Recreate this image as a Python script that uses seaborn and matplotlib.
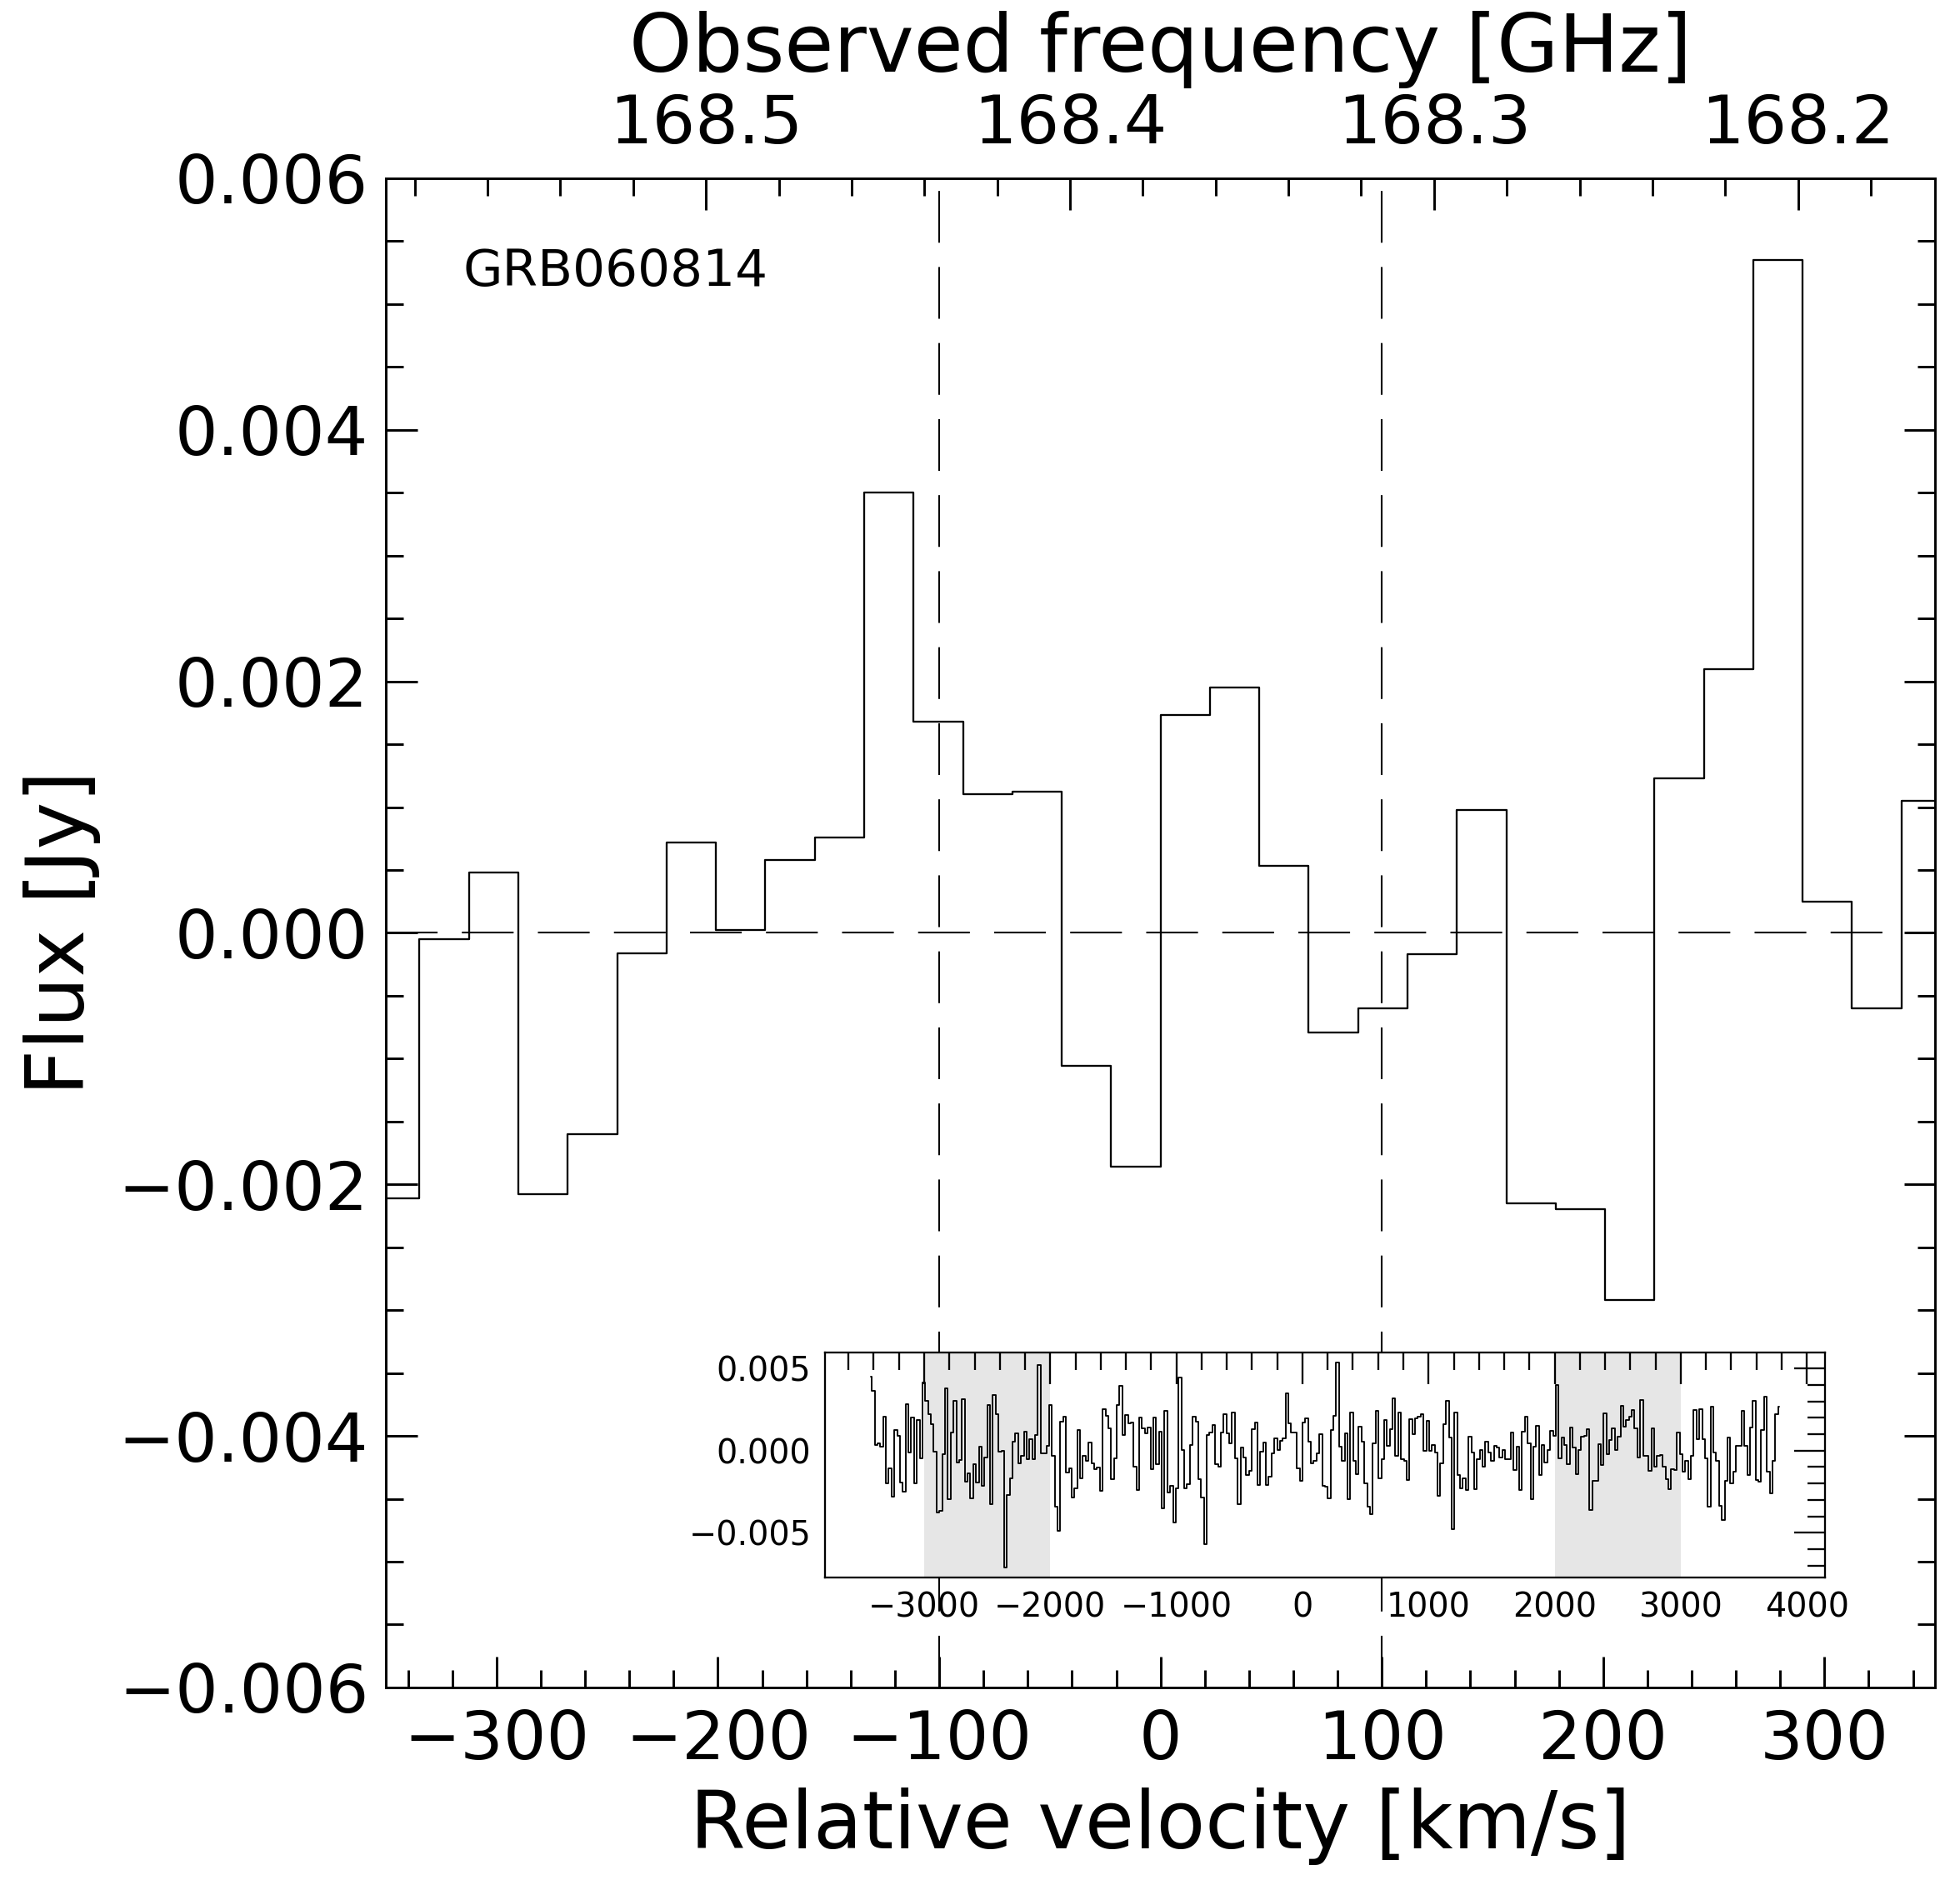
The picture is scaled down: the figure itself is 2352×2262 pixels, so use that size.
import numpy as np
import pandas as pd
import matplotlib
matplotlib.use("Agg")
import matplotlib.pyplot as plt
import seaborn as sns
from matplotlib.ticker import (MultipleLocator, FormatStrFormatter,
                               FuncFormatter, FixedLocator)

# ---------------- data ----------------
CHANNEL_WIDTH = 22.32      # km/s
FIRST_CHANNEL = -154       # index of first channel (centre = (k+0.5)*width)

# flux density in mJy, channels -154 ... -17
flux_blue_mjy = [
    4.51, 3.66, 0.34, 0.44, 0.22, 2.04, -2.01, -1.09, -2.79, 1.26,
    0.88, -1.96, -2.52, 2.81, -0.12, 2.01, -1.97, 1.85, -0.46, 4.17,
    3.03, 2.21, 1.60, -0.07, -3.78, -3.69, -0.24, 3.79, -2.94, 1.09,
    3.03, -0.75, -0.56, 3.13, -1.87, -1.41, -2.89, -0.85, -1.92, 0.22,
    -2.13, -0.43, 2.77, -3.25, 3.38, 2.23, -0.05, -0.03, -7.11, -2.70,
    -1.68, 0.53, 1.04, -0.80, -0.34, 1.14, -0.54, 0.70, -0.54, 0.94,
    5.22, -0.17, -0.15, 0.31, 2.77, -0.34, -3.44, -4.91, 1.77, 2.04,
    -1.36, -1.09, -2.84, -2.31, 1.26, -1.70, -0.34, -0.60, 0.48, -0.80,
    -1.14, -1.04, -2.43, 2.52, 2.11, 1.36, -1.73, -0.49, 2.77, 3.96,
    0.94, 2.18, 1.67, 1.70, -0.97, -2.41, 2.01, 1.33, 1.04, 1.41,
    -1.11, 2.01, -0.85, 1.14, -3.50, 2.41, -2.53, -2.13, -4.40, -2.30,
    4.44, 0.05, -2.30, -2.07, 0.34, 2.09, 1.75, -1.73, -2.84, -5.71,
    0.97, 1.11, 1.58, -0.85, -0.97, 1.12, 2.21, 1.04, 0.43, 2.30,
    -0.46, -3.27, 0.17, -0.41, -1.51, -1.22, 1.29, 1.70,
]
# channels -16 ... 15 (the zoomed main panel)
flux_core_mjy = [
    -2.11, -0.05, 0.48, -2.08, -1.60, -0.16, 0.72, 0.02, 0.58, 0.76,
    3.50, 1.68, 1.10, 1.12, -1.06, -1.86, 1.73, 1.95, 0.53, -0.79,
    -0.60, -0.17, 0.98, -2.15, -2.20, -2.92, 1.23, 2.10, 5.35, 0.25,
    -0.60, 1.05,
]
# channels 16 ... 169
flux_red_mjy = [
    -2.94, 2.30, -0.61, -1.46, 1.48, 0.53, -2.01, -3.44, -3.88, 0.43,
    2.41, -1.67, -0.51, 1.85, 0.31, 1.29, 3.18, -0.34, 2.30, -0.54,
    -0.63, -1.79, 1.90, 1.02, 1.96, 2.09, 2.21, 0.00, 1.80, -0.02,
    0.34, -0.12, -2.74, -0.78, 1.60, 3.01, 0.80, -4.78, 2.30, -1.48,
    -2.30, -1.68, -2.38, 0.87, -0.12, -2.33, -0.54, 0.02, -1.00, 0.56,
    -0.12, -0.63, 0.27, 0.19, -0.43, 0.02, -0.54, -0.54, 1.11, -1.17,
    0.26, -2.38, 1.16, 2.09, 0.44, -2.96, 0.26, 1.50, -1.51, 0.34,
    -0.71, 0.05, 1.21, 0.90, 4.01, -0.46, 0.82, 0.34, -0.85, 1.38,
    0.17, -1.43, 0.05, 0.85, 0.88, 1.31, -3.61, -1.82, -1.82, 0.37,
    -0.88, 2.26, -0.24, 0.65, 1.33, 0.05, 0.85, 2.72, 1.46, 1.84,
    2.04, 2.47, 1.33, -0.41, 3.06, -0.34, -0.34, -1.22, 1.33, -0.97,
    -0.32, -0.29, -0.97, -1.73, -2.33, -1.14, -1.19, 1.12, -0.20, -1.31,
    -0.60, -1.73, -0.34, 2.47, 0.68, 2.52, 0.68, -0.46, -3.40, 2.69,
    -0.12, -0.60, -3.35, -4.23, -1.82, 0.78, -1.99, -1.26, 0.31, 0.27,
    2.41, 0.31, -1.51, 1.41, 3.03, -1.79, -1.87, 1.24, 3.28, -1.26,
    -2.59, -0.63, 2.21, 2.69,
]

line_velocities = [-100, 100]              # km/s, dashed markers
continuum_windows = [(-3000, -2000), (2000, 3000)]
label_text = "GRB060814"

# top axis: observed frequency
freq_ticks = [168.5, 168.4, 168.3, 168.2]  # GHz
FREQ_REF = 168.5          # GHz
V_AT_FREQ_REF = -205.4    # km/s
KMS_PER_GHZ = 1645.0

flux_mjy = flux_blue_mjy + flux_core_mjy + flux_red_mjy
channel = np.arange(FIRST_CHANNEL, FIRST_CHANNEL + len(flux_mjy))
df = pd.DataFrame({
    "velocity": (channel + 0.5) * CHANNEL_WIDTH,
    "flux": np.array(flux_mjy) * 1e-3,
})

# ---------------- style ----------------
sns.set_style("white")
plt.rcParams["font.family"] = ["DejaVu Sans"]
plt.rcParams["axes.unicode_minus"] = True
plt.rcParams["lines.scale_dashes"] = False
for key in ("text.color", "axes.labelcolor", "xtick.color", "ytick.color",
            "axes.edgecolor"):
    plt.rcParams[key] = "black"

fmt3 = FuncFormatter(lambda x, pos: f"{x:.3f}".replace("-", "\u2212"))

fig = plt.figure(figsize=(7.84, 7.54), dpi=300)
ax = fig.add_axes([0.1969, 0.1048, 0.7904, 0.8006])

sns.lineplot(data=df, x="velocity", y="flux", ax=ax, drawstyle="steps-mid",
             color="black", lw=0.55, estimator=None, sort=False)

dash = (0, (14.9, 7.0))
ax.axhline(0, color="black", lw=0.5, ls=dash, zorder=1)
for v in line_velocities:
    ax.axvline(v, color="black", lw=0.5, ls=dash, zorder=1)

ax.set_xlim(-350, 350)
ax.set_ylim(-0.006, 0.006)
ax.xaxis.set_major_locator(MultipleLocator(100))
ax.xaxis.set_minor_locator(MultipleLocator(20))
ax.yaxis.set_major_locator(MultipleLocator(0.002))
ax.yaxis.set_minor_locator(MultipleLocator(0.0005))
ax.yaxis.set_major_formatter(fmt3)
ax.tick_params(which="both", direction="in", top=False, right=True,
               bottom=True, left=True, labelsize=19.5, colors="black")
ax.tick_params(axis="x", pad=6)
ax.tick_params(axis="y", pad=5)
ax.tick_params(which="major", length=9, width=0.7)
ax.tick_params(which="minor", length=5, width=0.7)
for s in ax.spines.values():
    s.set_linewidth(0.7)
    s.set_color("black")
ax.set_xlabel("Relative velocity [km/s]", fontsize=23, labelpad=4)
ax.set_ylabel("Flux [Jy]", fontsize=23, labelpad=5)

ax.text(0.0495, 0.929, label_text, transform=ax.transAxes, fontsize=14.7,
        ha="left", va="baseline", color="black")


def v2nu(v):
    return FREQ_REF - (np.asarray(v) - V_AT_FREQ_REF) / KMS_PER_GHZ


def nu2v(nu):
    return V_AT_FREQ_REF + (FREQ_REF - np.asarray(nu)) * KMS_PER_GHZ


sec = ax.secondary_xaxis("top", functions=(v2nu, nu2v))
sec.xaxis.set_major_locator(FixedLocator(freq_ticks))
sec.xaxis.set_minor_locator(MultipleLocator(0.02))
sec.xaxis.set_major_formatter(FormatStrFormatter("%.1f"))
sec.tick_params(which="both", direction="in", labelsize=19.5, pad=6,
                colors="black")
sec.tick_params(which="major", length=9, width=0.7)
sec.tick_params(which="minor", length=5, width=0.7)
sec.spines["top"].set_linewidth(0.7)
sec.set_xlabel("Observed frequency [GHz]", fontsize=23, labelpad=6)

# ---------------- inset: full spectrum ----------------
axin = fig.add_axes([0.4209, 0.1631, 0.5102, 0.1194])
axin.set_facecolor("white")
for lo, hi in continuum_windows:
    axin.axvspan(lo, hi, color="0.9", lw=0, zorder=0)
sns.lineplot(data=df, x="velocity", y="flux", ax=axin, drawstyle="steps-mid",
             color="black", lw=0.45, estimator=None, sort=False)
axin.xaxis.set_major_locator(MultipleLocator(1000))
axin.xaxis.set_minor_locator(MultipleLocator(200))
axin.yaxis.set_major_locator(MultipleLocator(0.005))
axin.yaxis.set_minor_locator(MultipleLocator(0.001))
axin.yaxis.set_major_formatter(fmt3)
axin.tick_params(which="both", direction="in", top=True, right=True,
                 labelsize=9.5, pad=4, colors="black")
axin.tick_params(which="major", length=9, width=0.55)
axin.tick_params(which="minor", length=5, width=0.55)
for s in axin.spines.values():
    s.set_linewidth(0.55)
    s.set_color("black")
axin.set_xlabel("")
axin.set_ylabel("")

fig.savefig("out.png", dpi=300)
